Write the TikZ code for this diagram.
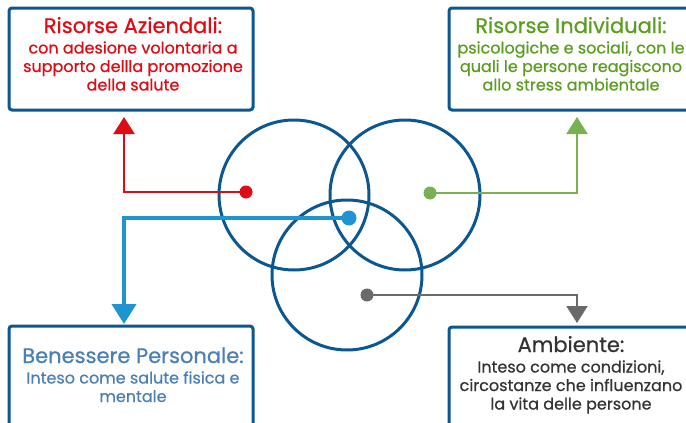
\documentclass[tikz,border=0pt]{standalone}
\usepackage{fontspec}
\setmainfont{Poppins}[FakeBold=0.6]
\usetikzlibrary{arrows.meta}
\definecolor{ringblue}{HTML}{0B5791}
\definecolor{cred}{HTML}{DE0B14}
\definecolor{cgreentxt}{HTML}{5A9E1F}
\definecolor{cgreen}{HTML}{79B052}
\definecolor{cblue}{HTML}{1E94D2}
\definecolor{cbluetxt}{HTML}{4A80B3}
\definecolor{cgrey}{HTML}{6A6A68}
\definecolor{cdark}{HTML}{333333}
\newcommand\mytitlefont{\fontsize{21}{21}\selectfont}
\newcommand\mysubfont{\fontsize{16}{18.5}\selectfont}
\newcommand\boxcontent[2]{\parbox[t]{260pt}{\centering\mytitlefont #1\par\vspace{2pt}\mysubfont #2\par}}
\tikzset{
  infobox/.style={draw=ringblue, line width=3pt, rounded corners=3pt, fill=white,
    minimum width=244pt, minimum height=102pt, inner sep=0pt},
  boxtext/.style={inner sep=0pt, anchor=base, text=#1},
  ring/.style={draw=ringblue, line width=3pt, circle, minimum size=150pt, inner sep=0pt},
  dotnode/.style={circle, fill=#1, minimum size=13pt, inner sep=0pt},
  conn/.style={draw=#1, line width=2pt, -{Triangle[width=21pt,length=17pt]}, color=#1}
}
\begin{document}
\begin{tikzpicture}[x=1pt,y=-1pt]
\useasboundingbox (0,0) rectangle (686,423);
\begin{scope}
\clip (0,0) rectangle (686,423);
\node[infobox] (ra) at (131,59) {};
\node[infobox] (ri) at (571,59) {};
\node[infobox] (bp) at (131,377) {};
\node[infobox] (am) at (571,378) {};
\end{scope}
\node[boxtext=cred] (rat) at (133,33) {\boxcontent{Risorse Aziendali:}{con adesione volontaria a\\supporto dellla promozione\\della salute}};
\node[boxtext=cgreentxt] (rit) at (571,33) {\boxcontent{Risorse Individuali:}{psicologiche e sociali, con le\\quali le persone reagiscono\\allo stress ambientale}};
\node[boxtext=cbluetxt] (bpt) at (133,363) {\boxcontent{Benessere Personale:}{Inteso come salute fisica e\\mentale}};
\node[boxtext=cdark] (amt) at (571,352) {\boxcontent{Ambiente:}{Inteso come condizioni,\\circostanze che influenzano\\la vita delle persone}};
% rings
\node[ring] (c1) at (294,195) {};
\node[ring] (c2) at (405,195) {};
\node[ring] (c3) at (347,275) {};
% dots
\node[dotnode=cred] (dr) at (246,192) {};
\node[dotnode=cgreen] (dg) at (430,193) {};
\node[dotnode=cgrey] (dk) at (367,295) {};
% arrow tips
\coordinate (tr) at (124,117);
\coordinate (tg) at (577,117);
\coordinate (tb) at (124,324);
\coordinate (tk) at (577,323);
\draw[conn=cred] (dr.center) -| (tr);
\draw[conn=cgreen] (dg.center) -| (tg);
\draw[conn=cgrey] (dk.center) -| (tk);
\node[dotnode=cblue, minimum size=15pt] (db) at (349,218) {};
\draw[draw=cblue, line width=4pt, -{Triangle[width=24pt,length=20pt]}, color=cblue] (db.center) -| (tb);
\end{tikzpicture}
\end{document}
